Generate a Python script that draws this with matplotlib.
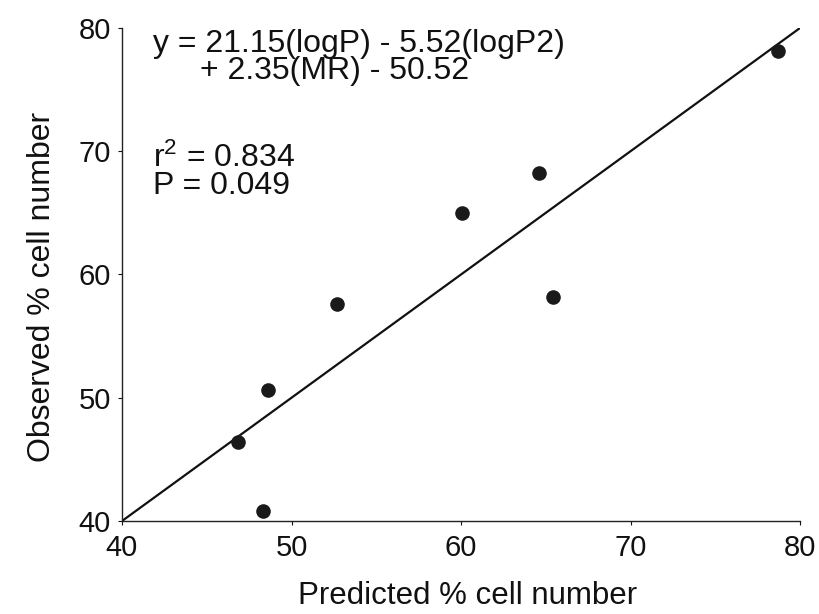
import matplotlib
matplotlib.use("Agg")
import matplotlib.pyplot as plt

plt.rcParams['font.family'] = ['Liberation Sans', 'DejaVu Sans']
plt.rcParams['mathtext.fontset'] = 'custom'
plt.rcParams['mathtext.rm'] = 'Liberation Sans'
plt.rcParams['mathtext.it'] = 'Liberation Sans'
plt.rcParams['mathtext.default'] = 'regular'

# Predicted vs observed % cell number
predicted = [46.85, 48.3, 48.6, 52.7, 60.05, 64.6, 65.4, 78.7]
observed = [46.4, 40.8, 50.65, 57.6, 65.0, 68.2, 58.2, 78.1]

line_x = [40, 80]
line_y = [40, 80]

x_ticks = [40, 50, 60, 70, 80]
y_ticks = [40, 50, 60, 70, 80]

equation_1 = "y = 21.15(logP) - 5.52(logP2)"
equation_2 = "+ 2.35(MR) - 50.52"
r2_text = "r$^{2}$ = 0.834"
p_text = "P = 0.049"

fig = plt.figure(figsize=(8.19, 6.14), dpi=100)
ax = fig.add_axes([122 / 819, 1 - 521 / 614, 678 / 819, 493 / 614])

ax.plot(line_x, line_y, color='#111111', lw=1.6, zorder=2)
ax.plot(predicted, observed, 'o', color='#1a1a1a', markersize=10.5,
        markeredgewidth=0, zorder=3)

ax.set_xlim(40, 80)
ax.set_ylim(40, 80)
ax.set_xticks(x_ticks)
ax.set_yticks(y_ticks)
ax.tick_params(direction='out', length=3, width=0.8, labelsize=21,
               colors='#111111')
ax.tick_params(axis='x', pad=6)
ax.tick_params(axis='y', pad=5)

for side in ('top', 'right'):
    ax.spines[side].set_visible(False)
for side in ('left', 'bottom'):
    ax.spines[side].set_linewidth(1.0)
    ax.spines[side].set_color('#222222')

ax.set_xlabel("Predicted % cell number", fontsize=22.5, color='#111111')
ax.set_ylabel("Observed % cell number", fontsize=23, color='#111111')
ax.xaxis.set_label_coords(0.509, -0.122)
ax.yaxis.set_label_coords(-0.096, 0.475)

txt_kw = dict(fontsize=23, color='#111111', va='baseline', ha='left')
ax.text(41.85, 78.05, equation_1, **txt_kw)
ax.text(44.6, 75.85, equation_2, **txt_kw)
ax.text(41.85, 68.7, r2_text, **txt_kw)
ax.text(41.85, 66.5, p_text, **txt_kw)

fig.savefig("out.png", dpi=100, facecolor='white')
